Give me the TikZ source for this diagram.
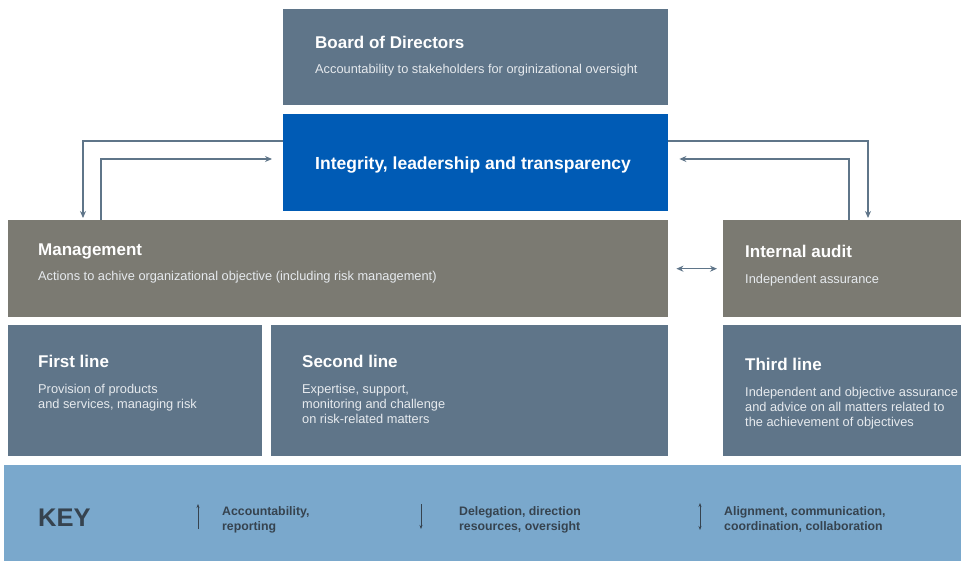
\documentclass[tikz,border=0pt]{standalone}
\usepackage{fontspec}
\setmainfont{Liberation Sans}
\usetikzlibrary{arrows.meta}
\definecolor{slate}{HTML}{5F7589}
\definecolor{royal}{HTML}{005BB5}
\definecolor{stone}{HTML}{7B7A72}
\definecolor{sky}{HTML}{7AA8CC}
\definecolor{ink}{HTML}{36434F}
\definecolor{pale}{HTML}{E6EAEE}
\tikzset{
  box/.style={rectangle,draw=none,anchor=north west,inner sep=0pt},
  ttl/.style={anchor=base west,inner sep=0pt,text=white,font=\fontsize{17}{20}\selectfont\bfseries},
  sub/.style={anchor=base west,inner sep=0pt,text=pale,align=left,font=\fontsize{12.8}{15}\selectfont},
  keytxt/.style={anchor=base west,inner sep=0pt,text=ink,align=left,font=\fontsize{12.3}{15}\selectfont\bfseries},
  link/.style={draw=slate,line width=1.1pt,>={Stealth[length=7pt,width=6pt]}}
}
\begin{document}
\begin{tikzpicture}[x=1pt,y=-1pt]
\useasboundingbox (0,0) rectangle (961,561);
% boxes
\node[box,fill=slate,minimum width=385pt,minimum height=96pt] (board) at (283,9) {};
\node[box,fill=royal,minimum width=385pt,minimum height=97pt] (int) at (283,114) {};
\node[box,fill=stone,minimum width=660pt,minimum height=97pt] (mgmt) at (8,220) {};
\node[box,fill=stone,minimum width=238pt,minimum height=97pt] (ia) at (723,220) {};
\node[box,fill=slate,minimum width=254pt,minimum height=131pt] (first) at (8,325) {};
\node[box,fill=slate,minimum width=397pt,minimum height=131pt] (second) at (271,325) {};
\node[box,fill=slate,minimum width=238pt,minimum height=131pt] (third) at (723,325) {};
\node[box,fill=sky,minimum width=957pt,minimum height=96pt] (key) at (4,465) {};
% texts (multi-line nodes sit on their last line)
\node[ttl] (boardT) at (315,49) {Board of Directors};
\node[sub] (boardS) at (315,74) {Accountability to stakeholders for orginizational oversight};
\node[ttl,font=\fontsize{17.5}{20}\selectfont\bfseries] (intT) at (315,170) {Integrity, leadership and transparency};
\node[ttl] (mgmtT) at (38,256) {Management};
\node[sub] (mgmtS) at (38,281) {Actions to achive organizational objective (including risk management)};
\node[ttl] (iaT) at (745,258) {Internal audit};
\node[sub] (iaS) at (745,284) {Independent assurance};
\node[ttl] (firstT) at (38,367) {First line};
\node[sub] (firstS) at (38,408) {Provision of products\\and services, managing risk};
\node[ttl] (secondT) at (302,367) {Second line};
\node[sub] (secondS) at (302,423) {Expertise, support,\\monitoring and challenge\\on risk-related matters};
\node[ttl] (thirdT) at (745,370) {Third line};
\node[sub] (thirdS) at (745,426) {Independent and objective assurance\\and advice on all matters related to\\the achievement of objectives};
% key
\node[anchor=base west,inner sep=0pt,text=ink,font=\fontsize{25.5}{28}\selectfont\bfseries] (keyT) at (38,526) {KEY};
\node[keytxt] (k1) at (222,530) {Accountability,\\reporting};
\node[keytxt] (k2) at (459,530) {Delegation, direction\\resources, oversight};
\node[keytxt] (k3) at (724,530) {Alignment, communication,\\coordination, collaboration};
\coordinate (a1) at (198,529); \coordinate (b1) at (198,504);
\coordinate (a2) at (421,504); \coordinate (b2) at (421,529);
\coordinate (a3) at (700,503); \coordinate (b3) at (700,530);
\draw[link,draw=ink,line width=0.8pt,->,>={Stealth[length=4pt,width=3pt]}] (a1) -- (b1);
\draw[link,draw=ink,line width=0.8pt,->,>={Stealth[length=4pt,width=3pt]}] (a2) -- (b2);
\draw[link,draw=ink,line width=0.8pt,<->,>={Stealth[length=4pt,width=3pt]}] (a3) -- (b3);
% connectors
\draw[link,->,shorten >=2pt] ([yshift=-27pt]int.north west) -| ([xshift=75pt]mgmt.north west);
\draw[link,->] ([xshift=93pt]mgmt.north west) |- ([xshift=-11pt,yshift=-45pt]int.north west);
\draw[link,->,shorten >=2pt] ([yshift=-27pt]int.north east) -| ([xshift=145pt]ia.north west);
\draw[link,->] ([xshift=126pt]ia.north west) |- ([xshift=11pt,yshift=-45pt]int.north east);
\draw[link,<->,shorten <=8pt,shorten >=6pt] (mgmt.east) -- (ia.west);
\end{tikzpicture}
\end{document}
